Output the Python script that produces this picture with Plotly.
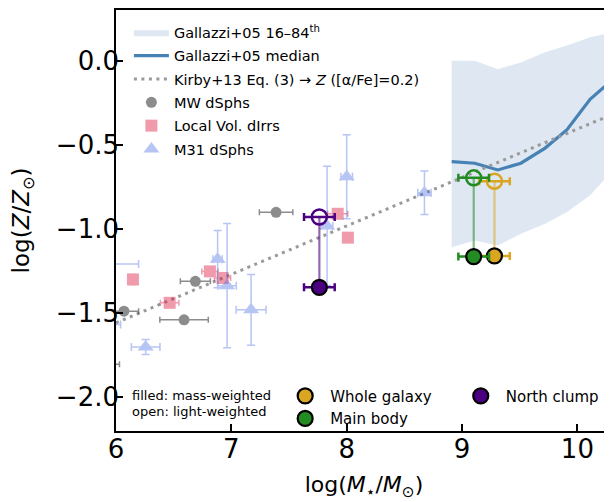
import plotly.graph_objects as go

# ---------------- data ----------------
# Gallazzi+05 relation
gal_logm = [8.91, 9.11, 9.31, 9.51, 9.72, 9.91, 10.11, 10.31, 10.51]
gal_p50 = [-0.60, -0.61, -0.65, -0.61, -0.52, -0.41, -0.23, -0.11, -0.01]
gal_p16 = [-1.11, -1.07, -1.10, -1.03, -0.97, -0.90, -0.80, -0.65, -0.41]
gal_p84 = [0.00, 0.00, -0.05, -0.01, 0.05, 0.09, 0.14, 0.17, 0.20]

# Kirby+13 Eq.(3) converted to Z
kirby_logm = [6.0, 10.3]
kirby_logz = [-1.56, -0.32]

# MW dSphs
mw_logm = [7.388, 6.688, 6.069, 6.590, 5.83]
mw_logz = [-0.902, -1.313, -1.491, -1.542, -1.807]
mw_xerr = [0.145, 0.13, 0.127, 0.21, 0.20]

# Local Volume dIrrs
lv_logm = [6.147, 6.465, 6.814, 6.924, 7.922, 8.010]
lv_logz = [-1.302, -1.441, -1.254, -1.293, -0.911, -1.053]
lv_xerr = [0.03, 0.08, 0.07, 0.07, 0.087, 0.04]
lv_yerr = [0.03, 0.02, 0.02, 0.02, 0.02, 0.02]

# M31 dSphs
m31_logm = [6.881, 6.963, 7.171, 6.257, 8.000, 7.830, 8.674, 5.90, 5.85]
m31_logz = [-1.181, -1.339, -1.483, -1.704, -0.691, -0.983, -0.786, -1.210, -1.570]
m31_xerr = [0.04, 0.08, 0.13, 0.124, 0.05, 0.05, 0.058, 0.296, 0.19]
m31_yerr = [0.17, 0.37, 0.21, 0.044, 0.25, 0.355, 0.13, 0.10, 0.10]

# This galaxy: regions
reg_names = ["Whole galaxy", "Main body", "North clump"]
reg_colors = ["#DAA520", "#228B22", "#4B0082"]
reg_line_colors = ["rgba(218,165,32,0.55)", "rgba(34,139,34,0.55)", "rgba(75,0,130,0.6)"]
reg_logm = [9.281, 9.101, 7.763]
reg_xerr = [0.133, 0.133, 0.133]
reg_z_mass = [-1.162, -1.166, -1.349]
reg_z_light = [-0.717, -0.697, -0.930]

note_lines = ["filled: mass-weighted", "open: light-weighted"]

FONT = "DejaVu Sans"

fig = go.Figure()

# Gallazzi band
fig.add_trace(go.Scatter(x=gal_logm, y=gal_p16, mode="lines", line=dict(width=0),
                         showlegend=False, hoverinfo="skip"))
fig.add_trace(go.Scatter(x=gal_logm, y=gal_p84, mode="lines", line=dict(width=0),
                         fill="tonexty", fillcolor="rgba(176,196,222,0.4)",
                         name="Gallazzi+05 16–84<sup>th</sup>", legend="legend",
                         legendgroup="g1", legendrank=1))
fig.add_trace(go.Scatter(x=gal_logm, y=gal_p50, mode="lines",
                         line=dict(color="#4682b4", width=3.2),
                         name="Gallazzi+05 median", legendgroup="g2", legendrank=2))
fig.add_trace(go.Scatter(x=kirby_logm, y=kirby_logz, mode="lines",
                         line=dict(color="#9a9a9a", width=3, dash="3px,4.5px"),
                         name="Kirby+13 Eq. (3) → <i>Z</i> ([α/Fe]=0.2)",
                         legendgroup="g3", legendrank=3))

# literature points
fig.add_trace(go.Scatter(x=mw_logm, y=mw_logz, mode="markers",
                         marker=dict(symbol="circle", size=11, color="#404040"),
                         error_x=dict(type="data", array=mw_xerr, color="#404040", thickness=1.5, width=3),
                         opacity=0.6, name="MW dSphs", legendgroup="g4", legendrank=4))
fig.add_trace(go.Scatter(x=lv_logm, y=lv_logz, mode="markers",
                         marker=dict(symbol="square", size=12, color="#dc143c"),
                         error_x=dict(type="data", array=lv_xerr, color="#dc143c", thickness=1.5, width=3),
                         error_y=dict(type="data", array=lv_yerr, color="#dc143c", thickness=1.5, width=3),
                         opacity=0.42, name="Local Vol. dIrrs", legendgroup="g5", legendrank=5))
fig.add_trace(go.Scatter(x=m31_logm, y=m31_logz, mode="markers",
                         marker=dict(symbol="triangle-up", size=14, color="#4169e1"),
                         error_x=dict(type="data", array=m31_xerr, color="#4169e1", thickness=1.5, width=4),
                         error_y=dict(type="data", array=m31_yerr, color="#4169e1", thickness=1.5, width=4),
                         opacity=0.38, name="M31 dSphs", legendgroup="g6", legendrank=6))

# connecting lines, light- and mass-weighted points
for i in range(3):
    fig.add_trace(go.Scatter(x=[reg_logm[i], reg_logm[i]], y=[reg_z_light[i], reg_z_mass[i]],
                             mode="lines", line=dict(color=reg_line_colors[i], width=2.2),
                             showlegend=False, hoverinfo="skip"))
for i in range(3):
    fig.add_trace(go.Scatter(x=[reg_logm[i]], y=[reg_z_light[i]], mode="markers",
                             marker=dict(symbol="circle-open", size=15, color=reg_colors[i],
                                         line=dict(color=reg_colors[i], width=2.5)),
                             error_x=dict(type="data", array=[reg_xerr[i]], color=reg_colors[i],
                                          thickness=2.5, width=4),
                             showlegend=False))
for i in range(3):
    fig.add_trace(go.Scatter(x=[reg_logm[i]], y=[reg_z_mass[i]], mode="markers",
                             marker=dict(symbol="circle", size=15, color=reg_colors[i],
                                         line=dict(color="black", width=2.2)),
                             error_x=dict(type="data", array=[reg_xerr[i]], color=reg_colors[i],
                                          thickness=2.5, width=4),
                             name=reg_names[i],
                             legend="legend3" if i == 2 else "legend2",
                             legendrank=10 + i))

for txt, yy in zip(note_lines, [0.0851, 0.0473]):
    fig.add_annotation(text=txt, xref="paper", yref="paper", x=0.028, y=yy,
                       xanchor="left", yanchor="middle", align="left", showarrow=False,
                       font=dict(family=FONT, size=13, color="black"))

axis_common = dict(showline=True, linecolor="black", linewidth=1.6,
                   ticks="inside", ticklen=7, tickwidth=2, tickcolor="black",
                   showgrid=False, zeroline=False,
                   tickfont=dict(family=FONT, size=26, color="black"))

# the page adds an 8px body margin, so the figure is sized/offset to compensate
fig.update_layout(
    width=604, height=494,
    margin=dict(l=108, r=0, t=0, b=71),
    plot_bgcolor="white", paper_bgcolor="white",
    font=dict(family=FONT, color="black"),
    xaxis=dict(range=[6.0, 10.3], tickvals=[6, 7, 8, 9, 10], mirror=True,
               ticklabelstandoff=-6,
               title=dict(text="log(<i>M</i><sub>⋆</sub>/<i>M</i><sub>⊙</sub>)",
                          font=dict(family=FONT, size=22), standoff=14),
               **axis_common),
    yaxis=dict(range=[-2.204, 0.302], tickvals=[0.0, -0.5, -1.0, -1.5, -2.0],
               ticktext=["0.0", "−0.5", "−1.0", "−1.5", "−2.0"],
               ticklabelstandoff=-10,
               title=dict(text="log(<i>Z</i>/<i>Z</i><sub>⊙</sub>)",
                          font=dict(family=FONT, size=23), standoff=26),
               **axis_common),
    legend=dict(x=0.026, y=0.985, xanchor="left", yanchor="top",
                bgcolor="rgba(0,0,0,0)", font=dict(family=FONT, size=14.5),
                tracegroupgap=1.5, itemwidth=35),
    legend2=dict(x=0.331, y=0.122, xanchor="left", yanchor="top", itemwidth=40,
                 bgcolor="rgba(0,0,0,0)", font=dict(family=FONT, size=15)),
    legend3=dict(x=0.685, y=0.122, xanchor="left", yanchor="top", itemwidth=40,
                 bgcolor="rgba(0,0,0,0)", font=dict(family=FONT, size=15)),
)

fig.write_html("out.html")
